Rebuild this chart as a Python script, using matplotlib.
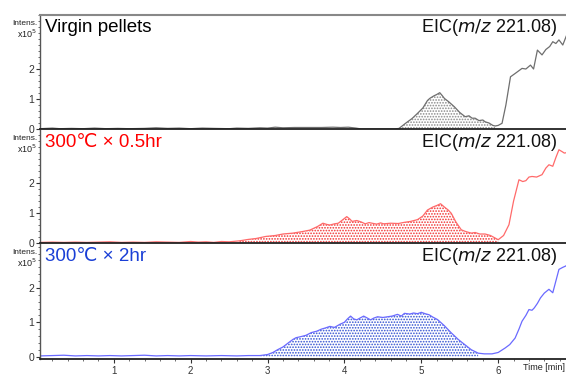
import matplotlib
matplotlib.use("Agg")
import matplotlib.pyplot as plt
from matplotlib.ticker import MultipleLocator

plt.rcParams['font.family'] = ['Liberation Sans', 'DejaVu Sans']
plt.rcParams['hatch.linewidth'] = 0.8

# ---- data (time [min], intensity x10^5) ----
t_virgin = [0.04, 0.2, 0.3, 0.45, 0.6, 0.75, 0.9, 1.05, 1.2, 1.4, 1.55, 1.7, 1.85, 2.0, 2.15, 2.3,
            2.5, 2.6, 2.75, 2.9, 3.0, 3.1, 3.2, 3.35, 3.5, 3.7, 3.85, 3.95, 4.05, 4.15, 4.22, 4.65,
            4.71, 4.8, 4.88, 4.95, 5.02, 5.08, 5.11, 5.16, 5.2, 5.24, 5.27, 5.3, 5.36, 5.43, 5.5,
            5.57, 5.62, 5.66, 5.7, 5.75, 5.8, 5.83, 5.88, 5.93, 5.96, 6.0, 6.05, 6.1, 6.16, 6.22,
            6.31, 6.36, 6.42, 6.46, 6.51, 6.57, 6.62, 6.67, 6.71, 6.75, 6.79, 6.84, 6.9, 6.95, 6.96]
i_virgin = [0.01, 0.03, 0.01, 0.02, 0.01, 0.03, 0.01, 0.02, 0.01, 0.02, 0.04, 0.02, 0.03, 0.01, 0.03, 0.02,
            0.01, 0.03, 0.02, 0.04, 0.03, 0.06, 0.04, 0.05, 0.05, 0.05, 0.06, 0.05, 0.06, 0.03, 0.0, 0.0,
            0.02, 0.2, 0.35, 0.52, 0.7, 0.95, 1.02, 1.1, 1.15, 1.21, 1.12, 1.02, 0.9, 0.74, 0.55,
            0.41, 0.44, 0.36, 0.36, 0.28, 0.3, 0.24, 0.2, 0.12, 0.1, 0.12, 0.19, 0.8, 1.74, 1.85,
            2.02, 2.0, 2.13, 2.0, 2.63, 2.47, 2.65, 2.75, 2.91, 2.85, 2.97, 2.8, 3.19, 3.47, 3.5]

t_05hr = [0.04, 0.2, 0.35, 0.5, 0.65, 0.8, 0.95, 1.1, 1.25, 1.4, 1.55, 1.7, 1.85, 2.0, 2.1, 2.2, 2.3,
          2.4, 2.5, 2.63, 2.75, 2.85, 2.98, 3.1, 3.2, 3.33, 3.45, 3.55, 3.65, 3.72, 3.77, 3.81, 3.87,
          3.92, 3.98, 4.03, 4.07, 4.1, 4.16, 4.22, 4.27, 4.32, 4.36, 4.42, 4.47, 4.51, 4.6, 4.7, 4.78,
          4.86, 4.95, 5.02, 5.08, 5.15, 5.2, 5.25, 5.3, 5.35, 5.39, 5.45, 5.52, 5.58, 5.65, 5.7, 5.76,
          5.83, 5.9, 5.95, 6.0, 6.07, 6.14, 6.2, 6.27, 6.32, 6.36, 6.4, 6.44, 6.5, 6.57, 6.62, 6.66,
          6.71, 6.75, 6.79, 6.83, 6.86, 6.9, 6.93, 6.96]
i_05hr = [0.02, 0.03, 0.02, 0.03, 0.02, 0.03, 0.04, 0.02, 0.03, 0.02, 0.04, 0.03, 0.02, 0.05, 0.03,
          0.04, 0.02, 0.05, 0.04, 0.07, 0.12, 0.15, 0.22, 0.25, 0.3, 0.33, 0.38, 0.43, 0.55, 0.66,
          0.62, 0.6, 0.64, 0.66, 0.78, 0.88, 0.8, 0.72, 0.75, 0.7, 0.64, 0.68, 0.66, 0.63, 0.67, 0.64,
          0.66, 0.65, 0.69, 0.72, 0.78, 0.9, 1.1, 1.2, 1.25, 1.31, 1.2, 1.1, 0.99, 0.7, 0.44, 0.38,
          0.33, 0.35, 0.3, 0.3, 0.25, 0.18, 0.11, 0.25, 0.61, 1.4, 2.11, 2.05, 2.08, 2.2, 2.22, 2.2,
          2.28, 2.5, 2.61, 2.56, 2.85, 3.11, 3.05, 3.0, 3.02, 2.94, 2.89]

t_2hr = [0.04, 0.2, 0.35, 0.5, 0.65, 0.8, 0.95, 1.1, 1.25, 1.4, 1.55, 1.7, 1.85, 2.0, 2.2, 2.4, 2.6,
         2.75, 2.9, 3.0, 3.07, 3.13, 3.2, 3.27, 3.33, 3.37, 3.43, 3.5, 3.57, 3.64, 3.7, 3.76, 3.81,
         3.87, 3.94, 4.0, 4.04, 4.08, 4.12, 4.16, 4.2, 4.25, 4.3, 4.34, 4.38, 4.43, 4.5, 4.56, 4.62,
         4.69, 4.74, 4.78, 4.85, 4.9, 4.95, 5.0, 5.05, 5.1, 5.15, 5.21, 5.3, 5.39, 5.48, 5.57, 5.65,
         5.74, 5.82, 5.92, 6.0, 6.09, 6.15, 6.22, 6.27, 6.31, 6.36, 6.4, 6.44, 6.47, 6.51, 6.55, 6.6,
         6.66, 6.71, 6.75, 6.79, 6.84, 6.88, 6.92, 6.96]
i_2hr = [0.02, 0.03, 0.04, 0.02, 0.03, 0.02, 0.03, 0.02, 0.03, 0.04, 0.02, 0.03, 0.02, 0.03, 0.02,
         0.03, 0.02, 0.03, 0.03, 0.06, 0.12, 0.2, 0.28, 0.4, 0.5, 0.55, 0.58, 0.62, 0.7, 0.74, 0.8,
         0.84, 0.88, 0.85, 0.94, 1.0, 1.1, 1.18, 1.1, 1.07, 1.12, 1.18, 1.12, 1.07, 1.12, 1.16, 1.14,
         1.16, 1.18, 1.23, 1.18, 1.26, 1.24, 1.27, 1.25, 1.29, 1.25, 1.22, 1.15, 1.08, 0.9, 0.69,
         0.5, 0.34, 0.2, 0.1, 0.08, 0.08, 0.12, 0.25, 0.35, 0.54, 0.8, 1.03, 1.2, 1.37, 1.35, 1.42,
         1.55, 1.71, 1.85, 1.96, 1.86, 2.2, 2.54, 2.6, 2.64, 2.72, 2.79]

labels = ["Virgin pellets", "300\u2103 \u00d7 0.5hr", "300\u2103 \u00d7 2hr"]
label_colors = ["#000000", "#ff0000", "#1a3fd6"]
line_colors = ["#6e6e6e", "#ff6a6a", "#6a6aff"]
fill_colors = ["#8a8a8a", "#f03030", "#3050d0"]
fill_ranges = [(4.71, 5.97), (2.55, 6.0), (2.9, 5.75)]
ylims = [(0, 3.8), (0, 3.77), (-0.07, 3.28)]
eic_label = "EIC($\\it{m/z}$ 221.08)"
xlim = (0.04, 6.96)

series = [(t_virgin, i_virgin), (t_05hr, i_05hr), (t_2hr, i_2hr)]

W, H = 566, 380
fig = plt.figure(figsize=(W / 100, H / 100), dpi=100)
panels = [(15, 129), (130, 243), (244, 359)]
left_px = 40
ax_w_px = W - left_px + 6

for k, ((t, y), (top, bot)) in enumerate(zip(series, panels)):
    ax = fig.add_axes([left_px / W, 1 - bot / H, ax_w_px / W, (bot - top) / H])
    ax.set_xlim(*xlim)
    ax.set_ylim(*ylims[k])
    lo, hi = fill_ranges[k]
    tf = [a for a in t if lo <= a <= hi]
    yf = [b for a, b in zip(t, y) if lo <= a <= hi]
    ax.fill_between(tf, 0, yf, facecolor="none", edgecolor=fill_colors[k],
                    hatch="......", linewidth=0)
    ax.plot(t, y, color=line_colors[k], lw=0.9)

    ax.spines["right"].set_visible(False)
    ax.spines["left"].set_color("#555555")
    ax.spines["left"].set_linewidth(1.0)
    ax.spines["bottom"].set_color("#222222")
    ax.spines["bottom"].set_linewidth(1.3)
    if k == 0:
        ax.spines["top"].set_color("#888888")
        ax.spines["top"].set_linewidth(1.5)
    else:
        ax.spines["top"].set_visible(False)

    ax.yaxis.set_minor_locator(MultipleLocator(0.2))
    ax.tick_params(axis="y", which="major", length=3, width=0.8, labelsize=7.5, pad=1, colors="#333333")
    ax.tick_params(axis="y", which="minor", length=1.5, width=0.6, colors="#555555")
    ax.set_yticks([0, 1, 2])

    if k == 2:
        ax.xaxis.set_minor_locator(MultipleLocator(0.2))
        ax.tick_params(axis="x", which="major", length=3, width=0.8, labelsize=7, pad=2, colors="#333333")
        ax.tick_params(axis="x", which="minor", length=1.5, width=0.6, colors="#555555")
        ax.set_xticks([1, 2, 3, 4, 5, 6])
    else:
        ax.set_xticks([])

    ax.text(5 / ax_w_px, 0.965, labels[k], transform=ax.transAxes, ha="left", va="top",
            fontsize=13.5, color=label_colors[k])
    ax.text((557 - left_px) / ax_w_px, 0.985, eic_label, transform=ax.transAxes, ha="right", va="top",
            fontsize=13, color="#111111")

    fig.text(37 / W, 1 - (top + 5) / H, "Intens.", ha="right", va="top", fontsize=6, color="#222222")
    fig.text(37 / W, 1 - (top + 13) / H, "x10$^5$", ha="right", va="top", fontsize=6.5, color="#222222")

fig.text(523 / W, 1 - 367 / H, "Time [min]", ha="left", va="center", fontsize=6.5, color="#222222")

fig.savefig("out.png", dpi=100)
